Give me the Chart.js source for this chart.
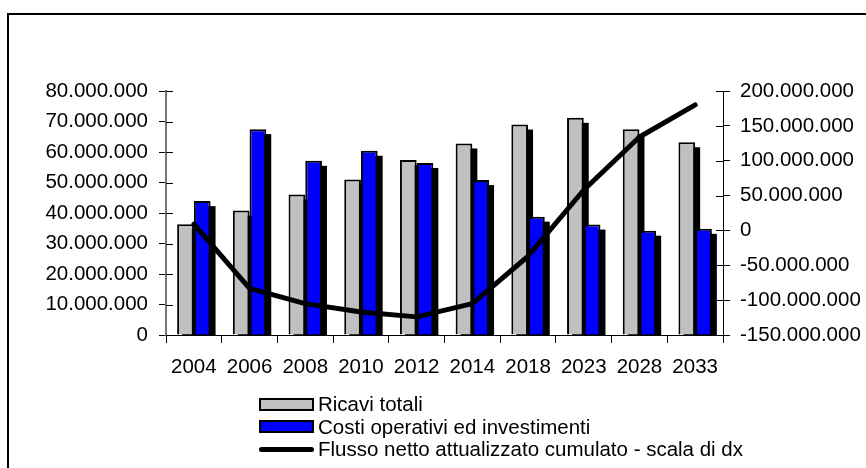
<!DOCTYPE html>
<html>
<head>
<meta charset="utf-8">
<script src="https://cdn.jsdelivr.net/npm/chart.js@4/dist/chart.umd.min.js"></script>
<style>
  body { margin: 0; background: #fff; }
  #wrap { position: relative; width: 866px; height: 468px; overflow: hidden; }
  #frame { position: absolute; left: 7px; top: 13px; width: 900px; height: 500px;
           border-left: 2px solid #000; border-top: 2px solid #000; }
  #legend { position: absolute; left: 259px; top: 393px; font-family: "Liberation Sans", Arial, sans-serif;
            font-size: 20.5px; color: #000; }
  .item { display: flex; align-items: center; height: 22.5px; white-space: nowrap; }
  .box { width: 51px; height: 9px; border: 2px solid #000; margin-right: 4px; }
  .ln { width: 55px; height: 5px; background: #000; border-radius: 3px; margin-right: 4px; }
</style>
</head>
<body>
<div id="wrap">
  <div id="frame"></div>
  <canvas id="chart" width="866" height="468"></canvas>
  <div id="legend"></div>
</div>
<script>
// data
const anni = ['2004', '2006', '2008', '2010', '2012', '2014', '2018', '2023', '2028', '2033'];
const ricavi = [36.3e6, 40.8e6, 46.1e6, 51.0e6, 57.4e6, 62.8e6, 69.0e6, 71.2e6, 67.5e6, 63.2e6];
const costi = [43.9e6, 67.5e6, 57.1e6, 60.4e6, 56.4e6, 50.8e6, 38.8e6, 36.2e6, 34.2e6, 34.8e6];
const flusso = [9e6, -83e6, -105e6, -117e6, -124e6, -105e6, -37e6, 58e6, 134e6, 180e6];

const fnt = { family: '"Liberation Sans", Arial, sans-serif', size: 20.5 };

function fmt(v) {
  const s = Math.abs(v).toFixed(0).replace(/\B(?=(\d{3})+(?!\d))/g, '.');
  return (v < 0 ? '-' : '') + s;
}

// excel-like black drop shadow behind all bars, drawn before the bars themselves
const barShadow = {
  id: 'barShadow',
  beforeDatasetsDraw(chart) {
    const ctx = chart.ctx;
    const a = chart.chartArea;
    ctx.save();
    ctx.beginPath();
    ctx.rect(a.left, a.top, a.right - a.left, a.bottom - a.top);
    ctx.clip();
    ctx.fillStyle = '#000';
    chart.data.datasets.forEach((ds, i) => {
      const meta = chart.getDatasetMeta(i);
      if (meta.type !== 'bar') return;
      meta.data.forEach(el => {
        const p = el.getProps(['x', 'y', 'base', 'width'], true);
        ctx.fillRect(p.x - p.width / 2 + 5, Math.min(p.y, p.base) + 5, p.width, Math.abs(p.base - p.y));
      });
    });
    ctx.restore();
  }
};

// tick marks crossing the value axes
const crossTicks = {
  id: 'crossTicks',
  afterDraw(chart) {
    const ctx = chart.ctx;
    ctx.save();
    ctx.strokeStyle = '#000';
    ctx.lineWidth = 1;
    ['y', 'y2'].forEach(id => {
      const s = chart.scales[id];
      const x = id === 'y' ? s.right : s.left;
      const dir = id === 'y' ? 1 : -1;
      s.ticks.forEach((t, i) => {
        const py = Math.round(s.getPixelForTick(i)) + 0.5;
        ctx.beginPath();
        ctx.moveTo(x, py);
        ctx.lineTo(x + dir * 7, py);
        ctx.stroke();
      });
    });
    ctx.restore();
  }
};

const chart = new Chart(document.getElementById('chart'), {
  type: 'bar',
  data: {
    labels: anni,
    datasets: [
      {
        label: 'Ricavi totali',
        data: ricavi,
        backgroundColor: '#c0c0c0',
        borderColor: '#000',
        borderWidth: 2,
        borderSkipped: 'bottom',
        yAxisID: 'y',
        categoryPercentage: 0.6,
        barPercentage: 1.0
      },
      {
        label: 'Costi operativi ed investimenti',
        data: costi,
        backgroundColor: '#0000ff',
        borderColor: '#000',
        borderWidth: 2,
        borderSkipped: 'bottom',
        yAxisID: 'y',
        categoryPercentage: 0.6,
        barPercentage: 1.0
      },
      {
        type: 'line',
        label: 'Flusso netto attualizzato cumulato - scala di dx',
        data: flusso,
        borderColor: '#000',
        backgroundColor: '#000',
        borderWidth: 5,
        borderCapStyle: 'round',
        borderJoinStyle: 'round',
        pointRadius: 0,
        tension: 0,
        yAxisID: 'y2',
        order: -1
      }
    ]
  },
  options: {
    responsive: false,
    animation: false,
    layout: { padding: { top: 91, left: 0, right: 0, bottom: 0 } },
    plugins: {
      legend: { display: false },
      tooltip: { enabled: false }
    },
    scales: {
      x: {
        offset: true,
        grid: { offset: true, drawOnChartArea: false, color: '#000', tickLength: 8 },
        border: { color: '#000', width: 1 },
        ticks: { color: '#000', font: fnt, padding: 12, maxRotation: 0 },
        afterFit(s) { s.height = 133; }
      },
      y: {
        position: 'left',
        min: 0,
        max: 80e6,
        grid: { drawOnChartArea: false, color: '#000', tickLength: 7 },
        border: { color: '#777', width: 2 },
        ticks: { stepSize: 10e6, color: '#000', font: fnt, padding: 11, callback: v => fmt(v) },
        afterFit(s) { s.width = 166; }
      },
      y2: {
        position: 'right',
        min: -150e6,
        max: 200e6,
        grid: { drawOnChartArea: false, color: '#000', tickLength: 7 },
        border: { color: '#000', width: 1 },
        ticks: { stepSize: 50e6, color: '#000', font: fnt, padding: 10, callback: v => fmt(v) },
        afterFit(s) { s.width = 143; }
      }
    }
  },
  plugins: [barShadow, crossTicks]
});

// legend built from the chart datasets
const leg = document.getElementById('legend');
chart.data.datasets.forEach(ds => {
  const row = document.createElement('div');
  row.className = 'item';
  const sw = document.createElement('span');
  if (ds.type === 'line') {
    sw.className = 'ln';
  } else {
    sw.className = 'box';
    sw.style.background = ds.backgroundColor;
  }
  const tx = document.createElement('span');
  tx.textContent = ds.label;
  row.appendChild(sw);
  row.appendChild(tx);
  leg.appendChild(row);
});
</script>
</body>
</html>
